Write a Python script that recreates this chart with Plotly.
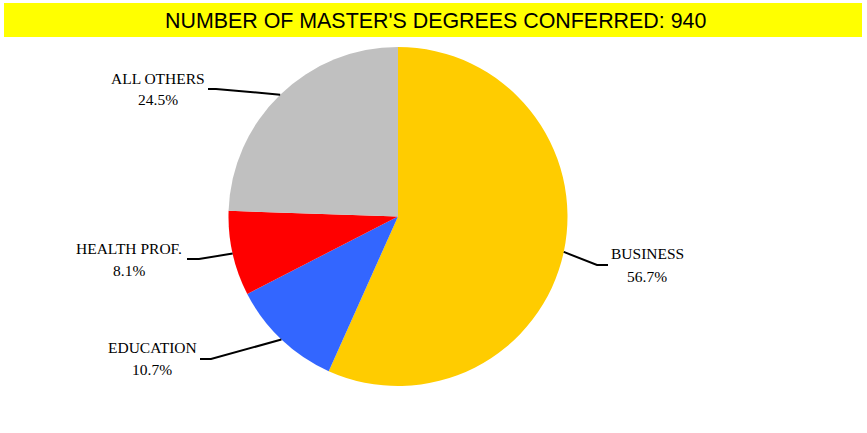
import math
import plotly.graph_objects as go

W, H = 867, 433

# ---- data ----
categories = ["BUSINESS", "EDUCATION", "HEALTH PROF.", "ALL OTHERS"]
counts = [533, 101, 76, 230]
colors = ["#FFCC00", "#3366FF", "#FF0000", "#C0C0C0"]
title_text = "NUMBER OF MASTER'S DEGREES CONFERRED: 940"

# ---- layout constants (pixels) ----
cx, cy, R = 398, 216.5, 169.5
# label centre (x, y of first line), elbow point, end of horizontal tick
label_pos = [(647, 254), (152, 347), (129, 248), (158, 78)]
elbow_pos = [(597, 265), (211, 359), (199, 259), (216, 89)]
tick_end = [(608, 265), (200, 359), (187, 259), (208, 89)]
line_gap = 22

def px(x):
    return x / W

def py(y):
    return 1 - y / H

fig = go.Figure(go.Pie(
    labels=categories, values=counts, sort=False, direction="clockwise",
    rotation=0, marker=dict(colors=colors, line=dict(width=0)),
    textinfo="none", hoverinfo="label+percent", showlegend=False,
    domain=dict(x=[px(cx - R), px(cx + R)], y=[py(cy + R), py(cy - R)]),
))

total = sum(counts)
shapes = [dict(type="rect", xref="paper", yref="paper",
               x0=px(4), x1=px(862), y0=py(37), y1=py(3),
               fillcolor="#FFFF00", line=dict(width=0), layer="below")]
annotations = [dict(text=title_text, xref="paper", yref="paper",
                    x=px(435), y=py(21), showarrow=False,
                    xanchor="center", yanchor="middle",
                    font=dict(family="Liberation Sans, Arial", size=21.4, color="black"))]

serif = dict(family="Liberation Serif, Times New Roman", size=15.5, color="black")
cum = 0
for i, (cat, v) in enumerate(zip(categories, counts)):
    mid = (cum + v / 2) / total * 2 * math.pi
    cum += v
    ex = cx + R * math.sin(mid)
    ey = cy - R * math.cos(mid)
    bx, by = elbow_pos[i]
    tx, ty = tick_end[i]
    shapes.append(dict(type="path", xref="paper", yref="paper",
                       path=f"M {px(ex)},{py(ey)} L {px(bx)},{py(by)} L {px(tx)},{py(ty)}",
                       line=dict(color="black", width=2)))
    lx, ly = label_pos[i]
    pct = f"{v / total * 100:.1f}%"
    annotations.append(dict(text=cat, xref="paper", yref="paper", x=px(lx), y=py(ly),
                            showarrow=False, xanchor="center", yanchor="middle", font=serif))
    annotations.append(dict(text=pct, xref="paper", yref="paper", x=px(lx), y=py(ly + line_gap),
                            showarrow=False, xanchor="center", yanchor="middle", font=serif))

fig.update_layout(width=W, height=H, margin=dict(l=0, r=0, t=0, b=0),
                  paper_bgcolor="white", plot_bgcolor="white",
                  shapes=shapes, annotations=annotations)
fig.write_html("out.html", config={"displayModeBar": False},
               post_script="document.body.style.margin='0';document.body.style.overflow='hidden';")
